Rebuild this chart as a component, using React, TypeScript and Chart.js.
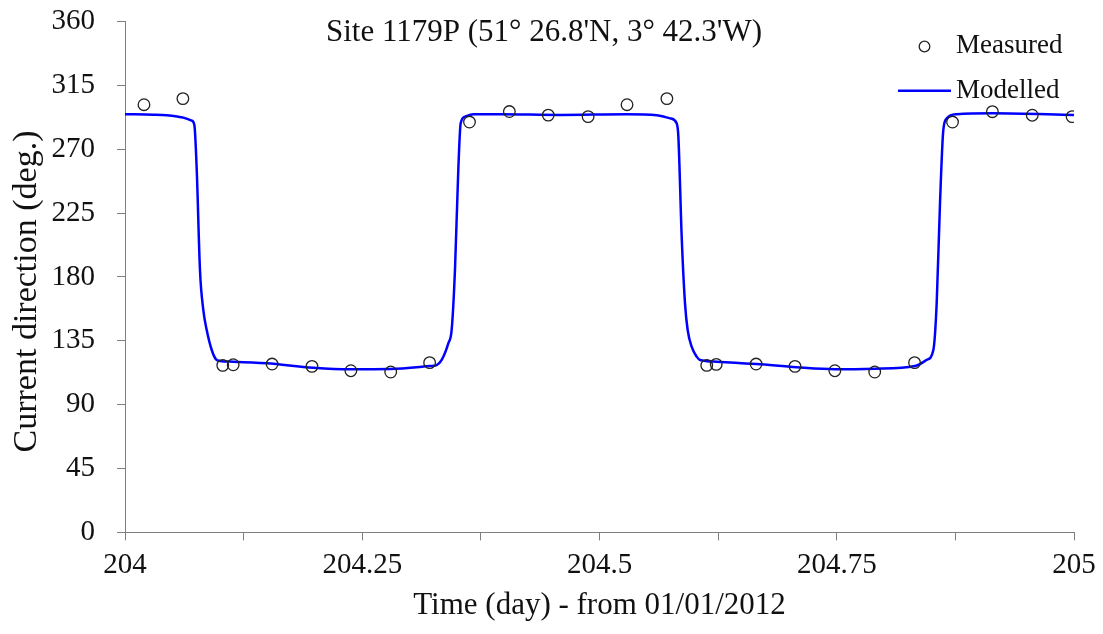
import React, { useEffect, useRef } from 'react';
import { Chart, registerables } from 'chart.js';

Chart.register(...registerables);

// ---- Data ----
const measuredTime = [
  204.020, 204.061, 204.103, 204.114, 204.155, 204.197, 204.238, 204.280, 204.321,
  204.363, 204.405, 204.446, 204.488, 204.529, 204.571, 204.613, 204.623, 204.665,
  204.706, 204.748, 204.790, 204.832, 204.872, 204.914, 204.956, 204.998,
];
const measuredDir = [
  301.3, 305.6, 117.7, 118.1, 118.6, 117.0, 113.9, 113.0, 119.6,
  289.1, 296.5, 294.0, 292.9, 301.3, 305.6, 117.7, 118.4, 118.6,
  117.0, 113.9, 113.0, 119.6, 289.1, 296.4, 293.9, 292.9,
];

const modelTime = [
  204.000, 204.030, 204.044, 204.055, 204.0615, 204.0703, 204.0731, 204.0756, 204.0790,
  204.0825, 204.0861, 204.0914, 204.0959, 204.1000, 204.1141, 204.1493, 204.1984, 204.2371,
  204.2792, 204.3214, 204.3284, 204.3337, 204.3407, 204.3442, 204.3477, 204.3512, 204.3537,
  204.3583, 204.3670, 204.3951, 204.4584, 204.5287, 204.5603, 204.5743, 204.5813, 204.5831,
  204.5866, 204.5901, 204.5929, 204.5971, 204.6024, 204.6059, 204.6235, 204.6656, 204.7078,
  204.7482, 204.7903, 204.8325, 204.8448, 204.8518, 204.8553, 204.8588, 204.8623, 204.8659,
  204.8764, 204.9150, 205.000,
];
const modelDir = [
  294.6, 294.3, 293.9, 293.0, 292.2, 290.1, 287.0, 255.3, 184.9,
  156.7, 142.6, 128.5, 121.9, 120.8, 120.3, 119.1, 116.0, 114.9,
  115.1, 117.2, 117.9, 121.5, 133.2, 142.6, 184.9, 255.3, 288.2,
  292.9, 294.6, 294.6, 294.1, 294.6, 293.9, 291.7, 288.2, 278.8,
  208.3, 161.4, 142.6, 130.8, 123.8, 121.5, 120.3, 118.6, 116.3,
  114.9, 115.3, 117.2, 121.5, 128.5, 161.4, 231.9, 283.5, 291.7,
  294.6, 295.3, 294.1,
];

const xMin = 204;
const xMax = 205;
const xStep = 0.125;
const yMin = 0;
const yMax = 360;
const yStep = 45;

const TITLE = "Site 1179P (51\u00B0 26.8'N, 3\u00B0 42.3'W)";
const X_TITLE = 'Time (day) - from 01/01/2012';
const Y_TITLE = 'Current direction (deg.)';
const SERIES_MEASURED = 'Measured';
const SERIES_MODELLED = 'Modelled';

const FONT = '"Liberation Serif", "Times New Roman", serif';
const TEXT = '#111111';
const AXIS = '#7f7f7f';
const BLUE = '#0000ff';

const overlayPlugin = {
  id: 'overlayText',
  afterDraw(chart: any) {
    const ctx = chart.ctx as CanvasRenderingContext2D;
    ctx.save();
    ctx.fillStyle = TEXT;
    ctx.textBaseline = 'middle';

    // Title inside plot
    ctx.font = `31px ${FONT}`;
    ctx.textAlign = 'center';
    ctx.fillText(TITLE, 544, 33);

    // Y axis title
    ctx.save();
    ctx.translate(27, 291.5);
    ctx.rotate(-Math.PI / 2);
    ctx.font = `34px ${FONT}`;
    ctx.textAlign = 'center';
    ctx.fillText(Y_TITLE, 0, 0);
    ctx.restore();

    // Legend
    ctx.font = `27px ${FONT}`;
    ctx.textAlign = 'left';
    ctx.fillText(SERIES_MEASURED, 956, 46);
    ctx.fillText(SERIES_MODELLED, 956, 91);

    ctx.beginPath();
    ctx.arc(924.5, 46.5, 5.3, 0, Math.PI * 2);
    ctx.lineWidth = 1.3;
    ctx.strokeStyle = '#222222';
    ctx.stroke();

    ctx.beginPath();
    ctx.moveTo(898, 90.7);
    ctx.lineTo(951, 90.7);
    ctx.lineWidth = 2.5;
    ctx.strokeStyle = BLUE;
    ctx.stroke();

    ctx.restore();
  },
};

function fmt(v: number): string {
  return String(Number(v.toFixed(3)));
}

export default function App() {
  const canvasRef = useRef<HTMLCanvasElement | null>(null);

  useEffect(() => {
    const canvas = canvasRef.current;
    if (!canvas) return;

    const measured = measuredTime.map((t, i) => ({ x: t, y: measuredDir[i] }));
    const model = modelTime.map((t, i) => ({ x: t, y: modelDir[i] }));

    const chart = new Chart(canvas, {
      type: 'scatter',
      data: {
        datasets: [
          {
            label: SERIES_MEASURED,
            data: measured,
            showLine: false,
            pointStyle: 'circle',
            pointRadius: 5.8,
            pointBorderWidth: 1.3,
            pointBorderColor: '#222222',
            pointBackgroundColor: 'rgba(0,0,0,0)',
          } as any,
          {
            label: SERIES_MODELLED,
            data: model,
            showLine: true,
            borderColor: BLUE,
            borderWidth: 2.5,
            pointRadius: 0,
            cubicInterpolationMode: 'monotone',
            fill: false,
          } as any,
        ],
      },
      options: {
        responsive: false,
        animation: false,
        devicePixelRatio: 1,
        layout: { padding: { left: 0, right: 29, top: 21.4, bottom: 0 } },
        plugins: {
          legend: { display: false },
          title: { display: false },
          tooltip: { enabled: false },
        },
        scales: {
          x: {
            type: 'linear',
            min: xMin,
            max: xMax,
            afterFit: (s: any) => {
              s.height = 101.6;
              s.paddingLeft = 0;
              s.paddingRight = 0;
            },
            border: { display: true, color: AXIS, width: 1 },
            grid: {
              display: true,
              drawOnChartArea: false,
              drawTicks: true,
              tickLength: 8,
              color: AXIS,
              lineWidth: 1,
            },
            ticks: {
              stepSize: xStep,
              autoSkip: false,
              maxRotation: 0,
              minRotation: 0,
              padding: 8,
              color: TEXT,
              font: { family: FONT, size: 29 },
              callback: (v: any) => {
                const n = Number(v);
                return Math.abs(n * 4 - Math.round(n * 4)) < 1e-6 ? fmt(n) : '';
              },
            },
            title: {
              display: true,
              text: X_TITLE,
              color: TEXT,
              font: { family: FONT, size: 31 },
              padding: { top: 0, bottom: 10 },
            },
          },
          y: {
            type: 'linear',
            min: yMin,
            max: yMax,
            afterFit: (s: any) => {
              s.width = 125;
              s.paddingTop = 0;
              s.paddingBottom = 0;
            },
            border: { display: true, color: AXIS, width: 1 },
            grid: {
              display: true,
              drawOnChartArea: false,
              drawTicks: true,
              tickLength: 8,
              color: AXIS,
              lineWidth: 1,
            },
            ticks: {
              stepSize: yStep,
              padding: 22,
              color: TEXT,
              font: { family: FONT, size: 29 },
            },
          },
        },
      } as any,
      plugins: [overlayPlugin],
    });

    return () => {
      chart.destroy();
    };
  }, []);

  return (
    <div style={{ position: 'absolute', left: 0, top: 0, width: 1103, height: 634, background: '#ffffff' }}>
      <canvas ref={canvasRef} width={1103} height={634} style={{ display: 'block' }} />
    </div>
  );
}
